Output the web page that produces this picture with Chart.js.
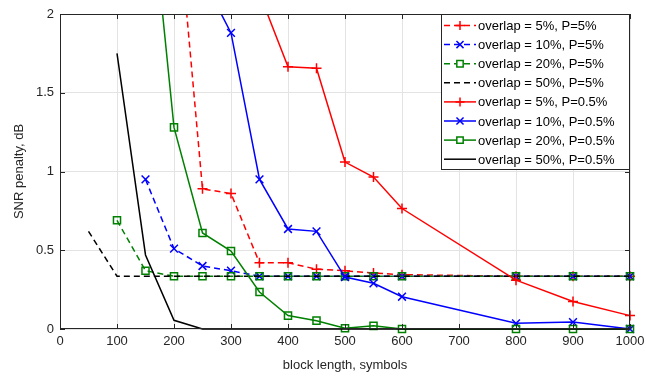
<!DOCTYPE html>
<html>
<head>
<meta charset="utf-8">
<script src="https://cdn.jsdelivr.net/npm/chart.js@4"></script>
<style>
  html, body { margin: 0; padding: 0; background: #fff; }
  #wrap { width: 646px; height: 377px; position: relative; }
</style>
</head>
<body>
<div id="wrap"><canvas id="snrChart"></canvas></div>
<script>
// block lengths and SNR penalty (dB)
const x_o5_p5 = [200, 250, 300, 350, 400, 450, 500, 550, 600, 800, 900, 1000];
const y_o5_p5 = [2.9, 0.89, 0.86, 0.42, 0.42, 0.38, 0.37, 0.355, 0.345, 0.335, 0.335, 0.335];

const x_o10_p5 = [150, 200, 250, 300, 350, 400, 450, 500, 550, 600, 800, 900, 1000];
const y_o10_p5 = [0.95, 0.51, 0.40, 0.37, 0.335, 0.335, 0.335, 0.335, 0.335, 0.335, 0.335, 0.335, 0.335];

const x_o20_p5 = [100, 150, 200, 250, 300, 350, 400, 450, 500, 550, 600, 800, 900, 1000];
const y_o20_p5 = [0.69, 0.37, 0.335, 0.335, 0.335, 0.335, 0.335, 0.335, 0.335, 0.335, 0.335, 0.335, 0.335, 0.335];

const x_o50_p5 = [50, 100, 150, 200, 250, 300, 350, 400, 450, 500, 550, 600, 800, 900, 1000];
const y_o50_p5 = [0.62, 0.335, 0.335, 0.335, 0.335, 0.335, 0.335, 0.335, 0.335, 0.335, 0.335, 0.335, 0.335, 0.335, 0.335];

const x_o5_p05 = [350, 400, 450, 500, 550, 600, 800, 900, 1000];
const y_o5_p05 = [2.13, 1.665, 1.655, 1.06, 0.965, 0.765, 0.31, 0.175, 0.085];

const x_o10_p05 = [250, 300, 350, 400, 450, 500, 550, 600, 800, 900, 1000];
const y_o10_p05 = [2.23, 1.88, 0.95, 0.635, 0.62, 0.33, 0.29, 0.205, 0.036, 0.044, 0.0];

const x_o20_p05 = [150, 200, 250, 300, 350, 400, 450, 500, 550, 600, 800, 900, 1000];
const y_o20_p05 = [3.08, 1.28, 0.61, 0.495, 0.235, 0.085, 0.053, 0.005, 0.02, 0.0, 0.0, 0.0, 0.0];

const x_o50_p05 = [100, 150, 200, 250, 300, 350, 400, 450, 500, 550, 600, 800, 900, 1000];
const y_o50_p05 = [1.75, 0.47, 0.055, 0, 0, 0, 0, 0, 0, 0, 0, 0, 0, 0];

const seriesNames = [
  'overlap = 5%, P=5%', 'overlap = 10%, P=5%', 'overlap = 20%, P=5%', 'overlap = 50%, P=5%',
  'overlap = 5%, P=0.5%', 'overlap = 10%, P=0.5%', 'overlap = 20%, P=0.5%', 'overlap = 50%, P=0.5%'
];
const xTicks = [0, 100, 200, 300, 400, 500, 600, 700, 800, 900, 1000];
const yTicks = [0, 0.5, 1, 1.5, 2];

const RED = '#ff0000', BLUE = '#0000ff', GREEN = '#008000', BLACK = '#000000';
const DASH = [6, 4];
const AXIS = '#262626';
const FONT = '"Liberation Sans", Arial, sans-serif';

function pts(xs, ys) {
  return xs.map((x, i) => ({ x: x, y: ys[i] }));
}

const styles = [
  { c: RED, dash: DASH, marker: 'cross', r: 5 },
  { c: BLUE, dash: DASH, marker: 'crossRot', r: 5.5 },
  { c: GREEN, dash: DASH, marker: 'rect', r: 5 },
  { c: BLACK, dash: DASH, marker: false, r: 0 },
  { c: RED, dash: [], marker: 'cross', r: 5 },
  { c: BLUE, dash: [], marker: 'crossRot', r: 5.5 },
  { c: GREEN, dash: [], marker: 'rect', r: 5 },
  { c: BLACK, dash: [], marker: false, r: 0 }
];

const allData = [
  pts(x_o5_p5, y_o5_p5), pts(x_o10_p5, y_o10_p5), pts(x_o20_p5, y_o20_p5), pts(x_o50_p5, y_o50_p5),
  pts(x_o5_p05, y_o5_p05), pts(x_o10_p05, y_o10_p05), pts(x_o20_p05, y_o20_p05), pts(x_o50_p05, y_o50_p05)
];

const datasets = allData.map((d, i) => ({
  label: seriesNames[i],
  data: d,
  borderColor: styles[i].c,
  backgroundColor: 'rgba(0,0,0,0)',
  borderWidth: 1.5,
  borderDash: styles[i].dash,
  pointStyle: styles[i].marker,
  pointRadius: styles[i].r,
  pointBorderWidth: 1.5,
  pointBorderColor: styles[i].c,
  pointBackgroundColor: 'rgba(0,0,0,0)',
  tension: 0,
  fill: false,
  clip: { left: 8, top: 0, right: 8, bottom: 8 },
  order: -i
}));

// box around the axes, inward ticks and the legend
const framePlugin = {
  id: 'frame',
  afterDraw(chart) {
    const { ctx, chartArea: a, scales } = chart;
    ctx.save();
    ctx.strokeStyle = AXIS;
    ctx.lineWidth = 1;
    ctx.strokeRect(a.left + 0.5, a.top + 0.5, a.right - a.left - 1, a.bottom - a.top - 1);
    ctx.beginPath();
    xTicks.forEach(v => {
      const px = Math.round(scales.x.getPixelForValue(v)) + 0.5;
      ctx.moveTo(px, a.bottom); ctx.lineTo(px, a.bottom - 5);
      ctx.moveTo(px, a.top); ctx.lineTo(px, a.top + 5);
    });
    yTicks.forEach(v => {
      const py = Math.round(scales.y.getPixelForValue(v)) + 0.5;
      ctx.moveTo(a.left, py); ctx.lineTo(a.left + 5, py);
      ctx.moveTo(a.right, py); ctx.lineTo(a.right - 5, py);
    });
    ctx.stroke();

    // legend
    const bx = 441, by = 14, bw = 188, bh = 155;
    ctx.fillStyle = '#fff';
    ctx.fillRect(bx, by, bw, bh);
    ctx.strokeStyle = AXIS;
    ctx.strokeRect(bx + 0.5, by + 0.5, bw, bh);
    ctx.font = '13px ' + FONT;
    ctx.textBaseline = 'middle';
    seriesNames.forEach((name, i) => {
      const s = styles[i];
      const y = 25.5 + i * 19.1;
      ctx.strokeStyle = s.c;
      ctx.lineWidth = 1.5;
      ctx.setLineDash(s.dash);
      ctx.beginPath();
      ctx.moveTo(444, y); ctx.lineTo(476, y);
      ctx.stroke();
      ctx.setLineDash([]);
      if (s.marker) {
        ctx.fillStyle = '#fff';
        Chart.helpers.drawPoint(ctx, {
          pointStyle: s.marker, radius: s.r - 0.5, borderWidth: 1.5, rotation: 0
        }, 460, y);
      }
      ctx.fillStyle = '#000';
      ctx.fillText(name, 478, y + 1);
    });
    ctx.restore();
  }
};

new Chart(document.getElementById('snrChart'), {
  type: 'line',
  data: { datasets: datasets },
  options: {
    responsive: true,
    maintainAspectRatio: false,
    animation: false,
    layout: { padding: { top: 14, right: 16, left: 0, bottom: 0 } },
    plugins: {
      legend: { display: false },
      tooltip: { enabled: false }
    },
    scales: {
      x: {
        type: 'linear',
        min: 0,
        max: 1000,
        afterFit(scale) {
          scale.height = 48;
          scale.paddingLeft = 0;
          scale.paddingRight = 0;
        },
        afterBuildTicks(scale) { scale.ticks = xTicks.map(v => ({ value: v })); },
        ticks: {
          color: AXIS, padding: 5, font: { size: 13, family: FONT },
          callback: v => String(v)
        },
        grid: { color: '#e3e3e3', drawTicks: false },
        border: { display: false },
        title: {
          display: true,
          text: 'block length, symbols',
          color: AXIS,
          padding: { top: 0, bottom: 4 },
          font: { size: 13, family: FONT }
        }
      },
      y: {
        min: 0,
        max: 2,
        afterFit(scale) {
          scale.width = 60;
          scale.paddingTop = 0;
          scale.paddingBottom = 0;
        },
        afterBuildTicks(scale) { scale.ticks = yTicks.map(v => ({ value: v })); },
        ticks: {
          color: AXIS, padding: 6, font: { size: 13, family: FONT },
          callback: v => String(v)
        },
        grid: { color: '#e3e3e3', drawTicks: false },
        border: { display: false },
        title: {
          display: true,
          text: 'SNR penalty, dB',
          color: AXIS,
          padding: { top: 12, bottom: 0 },
          font: { size: 13, family: FONT }
        }
      }
    }
  },
  plugins: [framePlugin]
});
</script>
</body>
</html>
